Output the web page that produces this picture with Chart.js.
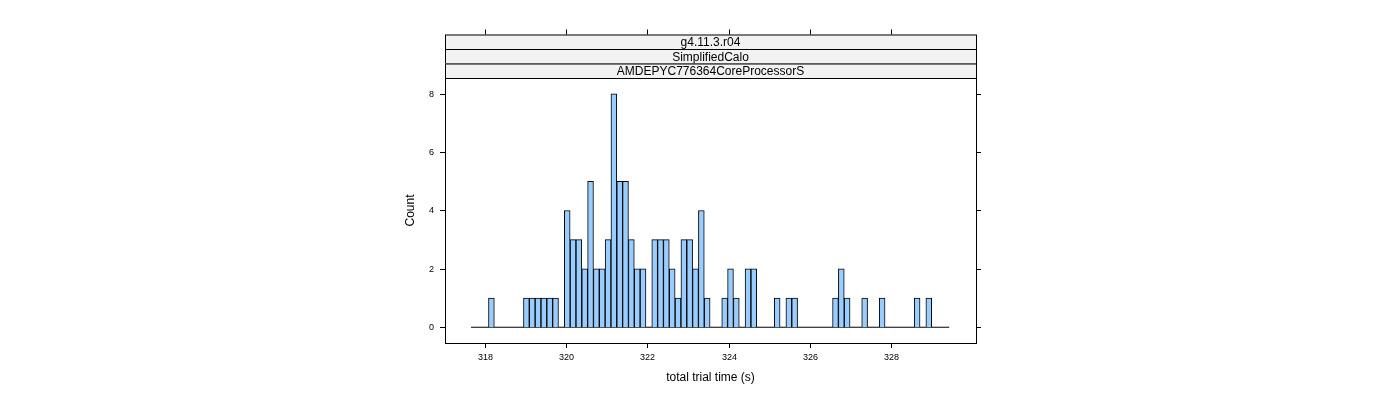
<!DOCTYPE html>
<html>
<head>
<meta charset="utf-8">
<script src="https://cdn.jsdelivr.net/npm/chart.js@4"></script>
<style>
  html, body { margin: 0; padding: 0; background: #fff; }
  #wrap { width: 1400px; height: 400px; }
</style>
</head>
<body>
<div id="wrap"><canvas id="hist"></canvas></div>
<script>
// histogram bins: first edge and width (seconds), counts per bin
const binStart = 317.655;
const binWidth = 0.1436;
const counts = [
  0, 0, 0, 1, 0, 0, 0, 0, 0, 1,
  1, 1, 1, 1, 1, 0, 4, 3, 3, 2,
  5, 2, 2, 3, 8, 5, 5, 3, 2, 2,
  0, 3, 3, 3, 2, 1, 3, 3, 2, 4,
  1, 0, 0, 1, 2, 1, 0, 2, 2, 0,
  0, 0, 1, 0, 1, 1, 0, 0, 0, 0,
  0, 0, 1, 2, 1, 0, 0, 1, 0, 0,
  1, 0, 0, 0, 0, 0, 1, 0, 1, 0,
  0, 0,
];
const xTicks = [318, 320, 322, 324, 326, 328];
const yTicks = [0, 2, 4, 6, 8];
const strips = ['g4.11.3.r04', 'SimplifiedCalo', 'AMDEPYC776364CoreProcessorS'];

const barData = counts.map((c, i) => ({ x: binStart + (i + 0.5) * binWidth, y: c }));
const binEnd = binStart + counts.length * binWidth;

const FONT = '"Liberation Sans", Arial, sans-serif';

const latticeFrame = {
  id: 'latticeFrame',
  afterDraw(chart) {
    const { ctx, chartArea: a, scales: { x, y } } = chart;
    ctx.save();
    ctx.strokeStyle = '#000';
    ctx.lineWidth = 1;
    ctx.fillStyle = '#000';

    // strips
    const sh = 14.5;
    const top = a.top - sh * strips.length;
    strips.forEach((s, i) => {
      const y0 = top + i * sh;
      ctx.fillStyle = '#f2f2f2';
      ctx.fillRect(a.left, y0, a.right - a.left, sh);
      ctx.strokeRect(a.left + 0.5, y0 + 0.5, a.right - a.left, sh);
      ctx.fillStyle = '#000';
      ctx.font = '12px ' + FONT;
      ctx.textAlign = 'center';
      ctx.textBaseline = 'middle';
      ctx.fillText(s, (a.left + a.right) / 2, y0 + sh / 2 + 1);
    });

    // panel border
    ctx.strokeRect(a.left + 0.5, a.top + 0.5, a.right - a.left, a.bottom - a.top);

    // x ticks bottom + top
    ctx.font = '9px ' + FONT;
    ctx.textAlign = 'center';
    ctx.textBaseline = 'top';
    xTicks.forEach(v => {
      const px = Math.round(x.getPixelForValue(v)) + 0.5;
      ctx.beginPath();
      ctx.moveTo(px, a.bottom); ctx.lineTo(px, a.bottom + 5);
      ctx.moveTo(px, top); ctx.lineTo(px, top - 5);
      ctx.stroke();
      ctx.fillText(String(v), px, a.bottom + 10);
    });

    // y ticks left + right
    ctx.textAlign = 'right';
    ctx.textBaseline = 'middle';
    yTicks.forEach(v => {
      const py = Math.round(y.getPixelForValue(v)) + 0.5;
      ctx.beginPath();
      ctx.moveTo(a.left, py); ctx.lineTo(a.left - 5, py);
      ctx.moveTo(a.right, py); ctx.lineTo(a.right + 5, py);
      ctx.stroke();
      ctx.fillText(String(v), a.left - 11, py);
    });

    // axis titles
    ctx.font = '12px ' + FONT;
    ctx.textAlign = 'center';
    ctx.textBaseline = 'middle';
    ctx.fillText('total trial time (s)', (a.left + a.right) / 2, a.bottom + 35);
    ctx.translate(a.left - 34, (a.top + a.bottom) / 2);
    ctx.rotate(-Math.PI / 2);
    ctx.fillText('Count', 0, 0);
    ctx.restore();
  },
};

new Chart(document.getElementById('hist'), {
  data: {
    datasets: [
      {
        type: 'bar',
        data: barData,
        backgroundColor: '#99ccff',
        borderColor: '#000',
        borderWidth: 1,
        barPercentage: 1,
        categoryPercentage: 1,
        grouped: false,
      },
      {
        type: 'line',
        data: [{ x: binStart, y: 0 }, { x: binEnd, y: 0 }],
        borderColor: '#000',
        borderWidth: 1,
        pointRadius: 0,
      },
    ],
  },
  options: {
    responsive: true,
    maintainAspectRatio: false,
    animation: false,
    layout: { padding: { left: 445, right: 424, top: 78, bottom: 57 } },
    plugins: { legend: { display: false }, tooltip: { enabled: false } },
    scales: {
      x: { type: 'linear', min: 317.015, max: 330.09, display: false, offset: false },
      y: { min: -0.54, max: 8.54, display: false },
    },
  },
  plugins: [latticeFrame],
});
</script>
</body>
</html>
